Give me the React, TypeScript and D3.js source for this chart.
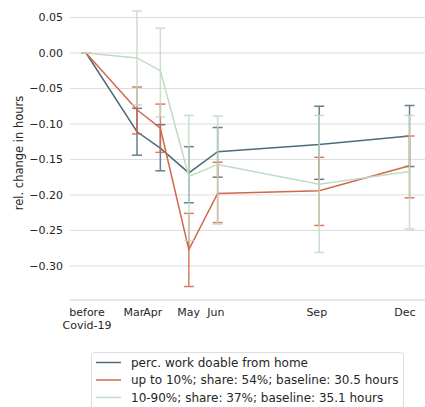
import React from "react";
import * as d3 from "d3";

const xLabels = ["before\nCovid-19", "Mar", "Apr", "May", "Jun", "Sep", "Dec"];
const xLabelPos = [1.35, 2.9, 3.52, 4.7, 5.6, 8.93, 11.84];
const xVals = [1.32, 3.0, 3.77, 4.71, 5.66, 9.01, 11.99];

const seriesNames = [
  "perc. work doable from home",
  "up to 10%; share: 54%; baseline: 30.5 hours",
  "10-90%; share: 37%; baseline: 35.1 hours",
];
const seriesColors = ["#4d6c7b", "#d2674c", "#c2dac2"];

const blueMean = [0, -0.111, -0.134, -0.169, -0.139, -0.129, -0.117];
const blueLo = [0, -0.144, -0.166, -0.211, -0.175, -0.178, -0.16];
const blueHi = [0, -0.078, -0.101, -0.132, -0.105, -0.075, -0.074];

const orangeMean = [0, -0.08, -0.106, -0.277, -0.198, -0.194, -0.159];
const orangeLo = [0, -0.114, -0.14, -0.329, -0.239, -0.243, -0.204];
const orangeHi = [0, -0.048, -0.072, -0.226, -0.154, -0.147, -0.117];

const greenMean = [0, -0.007, -0.025, -0.174, -0.157, -0.185, -0.167];
const greenLo = [0, -0.073, -0.09, -0.264, -0.241, -0.281, -0.248];
const greenHi = [0, 0.059, 0.035, -0.088, -0.089, -0.088, -0.088];

const yTicks = [0.05, 0.0, -0.05, -0.1, -0.15, -0.2, -0.25, -0.3];

const W = 425;
const H = 407;

export default function App() {
  const x = d3.scaleLinear().domain([0.79, 12.5]).range([70, 425]);
  const y = d3.scaleLinear().domain([-0.348, 0.068]).range([300, 4.7]);
  const series = [
    { mean: blueMean, lo: blueLo, hi: blueHi },
    { mean: orangeMean, lo: orangeLo, hi: orangeHi },
    { mean: greenMean, lo: greenLo, hi: greenHi },
  ];
  const line = d3
    .line<number>()
    .x((_, i) => x(xVals[i]))
    .y((d) => y(d));
  const fmt = (v: number) => {
    const s = Math.abs(v).toFixed(2);
    return v < -1e-9 ? "\u2212" + s : s;
  };
  const font = "DejaVu Sans, sans-serif";
  const textColor = "#262626";
  const cap = 5;

  return (
    <svg
      width={W}
      height={H}
      style={{ position: "absolute", left: 0, top: 0, background: "#fff" }}
      fontFamily={font}
    >
      {yTicks.map((t) => (
        <g key={t}>
          <line x1={70} x2={425} y1={y(t)} y2={y(t)} stroke="#dcdcdc" strokeWidth={1} />
          <text x={63} y={y(t) + 4} textAnchor="end" fontSize={11} fill={textColor}>
            {fmt(t)}
          </text>
        </g>
      ))}
      <line x1={70} x2={425} y1={300} y2={300} stroke="#d0d0d0" strokeWidth={1} />
      {xLabels.map((l, i) => (
        <text key={l} x={x(xLabelPos[i])} y={316} textAnchor="middle" fontSize={11} fill={textColor}>
          {l.split("\n").map((p, j) => (
            <tspan key={j} x={x(xLabelPos[i])} dy={j === 0 ? 0 : 13}>
              {p}
            </tspan>
          ))}
        </text>
      ))}
      <text
        transform={`translate(22.5,153) rotate(-90)`}
        textAnchor="middle"
        fontSize={11.5}
        fill={textColor}
      >
        rel. change in hours
      </text>
      {series.map((s, k) => (
        <g key={k}>
          <path d={line(s.mean) || ""} fill="none" stroke={seriesColors[k]} strokeWidth={1.5} />
          <g opacity={0.85} stroke={seriesColors[k]} strokeWidth={1.5}>
            {s.mean.map((_, i) => {
              const cx = x(xVals[i]);
              return (
                <g key={i}>
                  <line x1={cx} x2={cx} y1={y(s.lo[i])} y2={y(s.hi[i])} />
                  <line x1={cx - cap} x2={cx + cap} y1={y(s.lo[i])} y2={y(s.lo[i])} />
                  <line x1={cx - cap} x2={cx + cap} y1={y(s.hi[i])} y2={y(s.hi[i])} />
                </g>
              );
            })}
          </g>
        </g>
      ))}
      <rect x={91.5} y={352.5} width={312} height={60} rx={3} fill="#fff" fillOpacity={0.9} stroke="#dddddd" />
      {seriesNames.map((n, k) => {
        const cy = 362.5 + k * 17.5;
        return (
          <g key={n}>
            <line x1={96} x2={121} y1={cy} y2={cy} stroke={seriesColors[k]} strokeWidth={1.5} />
            <text x={131} y={cy + 4.3} fontSize={12} fill={textColor}>
              {n}
            </text>
          </g>
        );
      })}
    </svg>
  );
}
